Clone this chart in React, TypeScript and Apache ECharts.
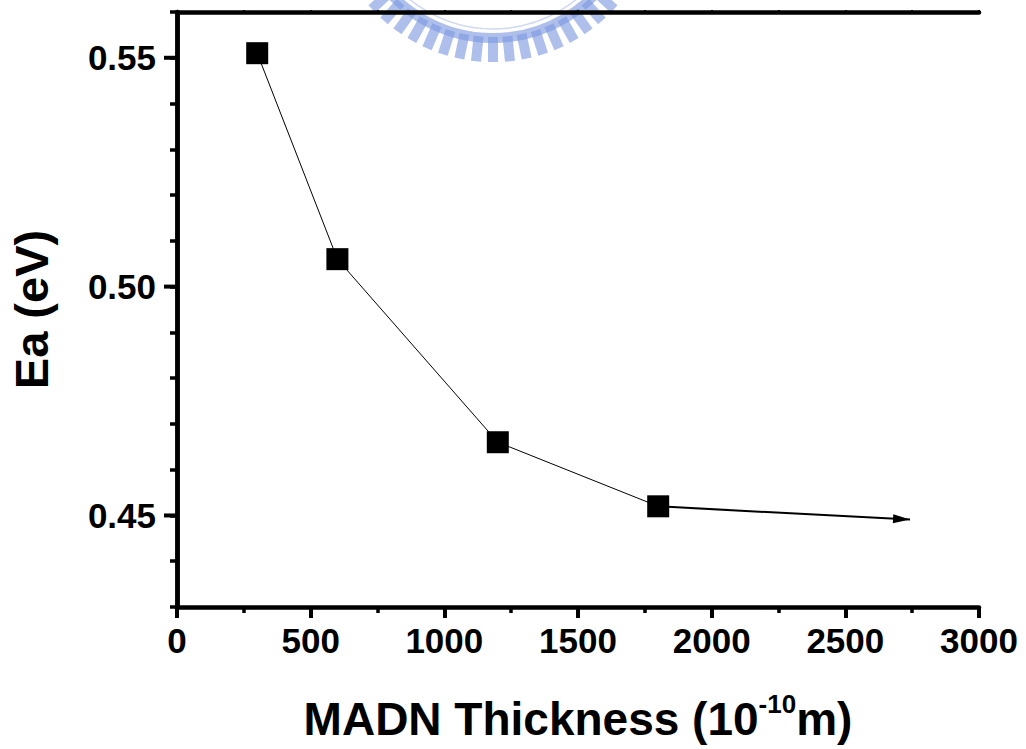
import React, { useEffect, useRef } from "react";
import * as echarts from "echarts";

const thickness = [300, 600, 1200, 1800];
const ea = [0.551, 0.506, 0.466, 0.452];
const arrowStart = [1800, 0.452];
const arrowEnd = [2742, 0.4491];
const yMajorTicks = [0.45, 0.5, 0.55];
const yLabels = ["0.45", "0.50", "0.55"];
const xMin = 0, xMax = 3000, yMin = 0.43, yMax = 0.56;

const FONT = "'Liberation Sans', Arial, sans-serif";

function watermark() {
  const cx = 493, cy = -103;
  const col = "rgba(125,152,224,0.62)";
  const els: any[] = [];
  els.push({
    type: "arc", z: -10, silent: true,
    shape: { cx, cy, r: 141, startAngle: Math.PI * 0.18, endAngle: Math.PI * 0.82 },
    style: { stroke: col, lineWidth: 10, fill: "none" },
  });
  els.push({
    type: "arc", z: -10, silent: true,
    shape: { cx, cy, r: 132, startAngle: Math.PI * 0.18, endAngle: Math.PI * 0.82 },
    style: { stroke: "rgba(160,178,228,0.5)", lineWidth: 1.5, fill: "none" },
  });
  for (let k = -10; k <= 10; k++) {
    els.push({
      type: "rect", z: -10, silent: true,
      x: cx, y: cy, rotation: (k * 5.9 * Math.PI) / 180,
      shape: { x: -5, y: 140, width: 10, height: 25 },
      style: { fill: col },
    });
  }
  return els;
}

export default function App() {
  const ref = useRef<HTMLDivElement>(null);
  useEffect(() => {
    document.body.style.margin = "0";
    const chart = echarts.init(ref.current!, null, { renderer: "svg" });
    const axisLine = { show: true, lineStyle: { color: "#000", width: 4.5 } };
    const labelStyle = { color: "#000", fontSize: 35, fontWeight: "bold", fontFamily: FONT };
    chart.setOption({
      animation: false,
      backgroundColor: "#fff",
      grid: { left: 173, right: 47, top: 12, bottom: 142, containLabel: false },
      xAxis: [
        {
          type: "value", position: "bottom", min: xMin, max: xMax, interval: 500,
          axisLine,
          axisTick: { show: true, length: 11, lineStyle: { color: "#000", width: 4 } },
          minorTick: { show: true, splitNumber: 2, length: 6, lineStyle: { color: "#000", width: 3.5 } },
          splitLine: { show: false },
          axisLabel: { ...labelStyle, margin: 16, formatter: (v: number) => String(v) },
          name: "{t|MADN Thickness (10}{s|-10}{t|m)}",
          nameLocation: "middle", nameGap: 84,
          nameTextStyle: {
            rich: {
              t: { fontSize: 46, fontWeight: "bold", fontFamily: FONT, color: "#000", lineHeight: 56 },
              s: { fontSize: 26, fontWeight: "bold", fontFamily: FONT, color: "#000", verticalAlign: "top", lineHeight: 56 },
            },
          },
        },
        {
          type: "value", position: "top", min: xMin, max: xMax, interval: 250,
          axisLine,
          axisTick: { show: true, length: 2, lineStyle: { color: "#000", width: 2 } },
          axisLabel: { show: false }, splitLine: { show: false },
        },
      ],
      yAxis: [
        {
          type: "value", position: "left", min: yMin, max: yMax, interval: 0.01,
          axisLine,
          axisTick: { show: true, length: 7, lineStyle: { color: "#000", width: 3.5 } },
          splitLine: { show: false },
          axisLabel: {
            ...labelStyle, margin: 21,
            formatter: (v: number) => {
              const i = yMajorTicks.findIndex((m) => Math.abs(m - v) < 1e-6);
              return i >= 0 ? yLabels[i] : "";
            },
          },
          name: "Ea (eV)", nameLocation: "middle", nameRotate: 90, nameGap: 122,
          nameTextStyle: { fontSize: 47, fontWeight: "bold", fontFamily: FONT, color: "#000" },
        },
        {
          type: "value", position: "right", min: yMin, max: yMax, interval: 0.01,
          axisLine,
          axisTick: { show: true, inside: true, length: 4, lineStyle: { color: "#000", width: 2 } },
          axisLabel: { show: false }, splitLine: { show: false },
        },
      ],
      graphic: watermark(),
      series: [
        {
          type: "custom", xAxisIndex: 0, yAxisIndex: 0, clip: false, silent: true,
          data: yMajorTicks.map((v) => [xMin, v]),
          renderItem: (params: any, api: any) => {
            const p = api.coord([api.value(0), api.value(1)]);
            return {
              type: "line",
              shape: { x1: p[0] - 13, y1: p[1], x2: p[0], y2: p[1] },
              style: { stroke: "#000", lineWidth: 4 },
            };
          },
          z: 10,
        },
        {
          type: "line", xAxisIndex: 0, yAxisIndex: 0,
          data: thickness.map((x, i) => [x, ea[i]]),
          symbol: "rect", symbolSize: 22,
          itemStyle: { color: "#000" },
          lineStyle: { color: "#000", width: 1 },
          z: 5,
          markLine: {
            silent: true, animation: false,
            label: { show: false },
            lineStyle: { color: "#000", width: 2, type: "solid" },
            emphasis: { disabled: true },
            data: [[
              { coord: arrowStart, symbol: "none" },
              { coord: arrowEnd, symbol: "path://M4,17 L8,34 L0,34 Z M4,0 L4,0", symbolSize: [9, 34] },
            ]],
          },
        },
      ],
    });
    return () => chart.dispose();
  }, []);
  return (
    <div
      ref={ref}
      style={{ position: "absolute", left: 0, top: 0, width: 1026, height: 749 }}
    />
  );
}
